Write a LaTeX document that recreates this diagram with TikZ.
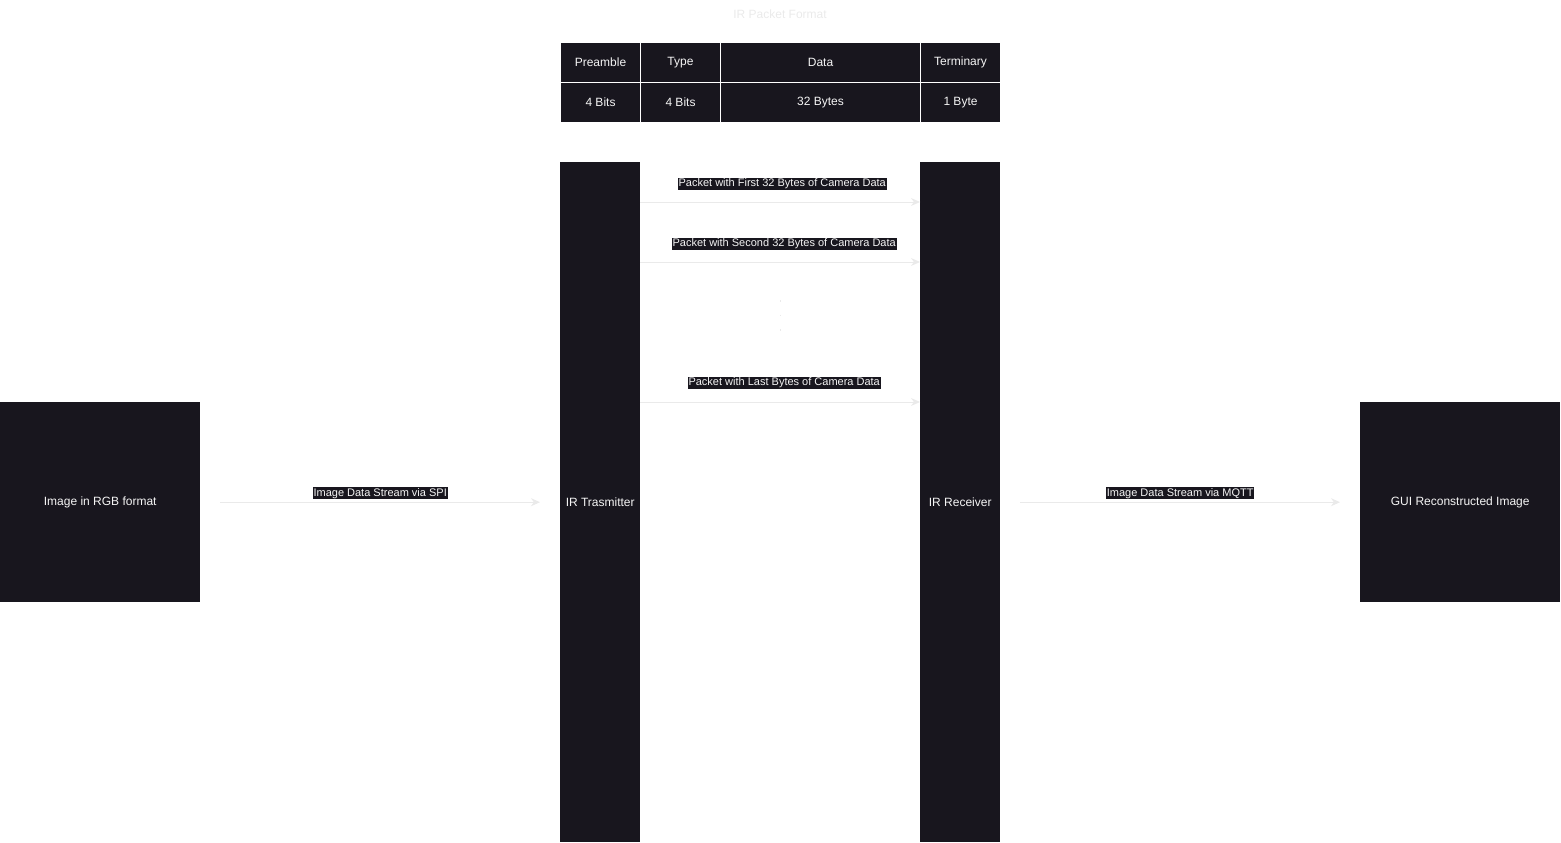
\documentclass[tikz,border=0pt]{standalone}
\usepackage{fontspec}
\setmainfont{Liberation Sans}
\usetikzlibrary{arrows.meta}
\definecolor{boxdark}{RGB}{24,22,30}
\definecolor{softtext}{RGB}{245,245,245}
\definecolor{faint}{RGB}{234,234,234}
\begin{document}
\begin{tikzpicture}[x=1pt,y=-1pt,
  darkbox/.style={draw=none,fill=boxdark,text=softtext,font=\fontsize{12}{14}\selectfont,inner sep=0pt,anchor=north west},
  cell/.style={draw=white,line width=1pt,fill=boxdark,text=softtext,font=\fontsize{12}{14}\selectfont,inner sep=0pt,anchor=north west,minimum height=40pt},
  tag/.style={fill=boxdark,text=softtext,font=\fontsize{11}{12}\selectfont,inner sep=0.8pt},
  flow/.style={draw=faint,line width=1pt,-{Stealth[length=9pt,width=8pt]}}]
\useasboundingbox (0,0) rectangle (1561,843);

% title of the packet layout
\node[text=faint,font=\fontsize{12}{14}\selectfont] (title) at (780,14) {IR Packet Format};

% packet layout table
\node[cell,minimum width=80pt] (hpre) at (560,42) {Preamble};
\node[cell,minimum width=80pt] (htype) at (640,42) {Type};
\node[cell,minimum width=200pt] (hdata) at (720,42) {Data};
\node[cell,minimum width=80pt] (hterm) at (920,42) {Terminary};
\node[cell,minimum width=80pt] (vpre) at (560,82) {4 Bits};
\node[cell,minimum width=80pt] (vtype) at (640,82) {4 Bits};
\node[cell,minimum width=200pt] (vdata) at (720,82) {32 Bytes};
\node[cell,minimum width=80pt] (vterm) at (920,82) {1 Byte};

% main blocks
\node[darkbox,minimum width=200pt,minimum height=200pt] (img) at (0,402) {Image in RGB format};
\node[darkbox,minimum width=80pt,minimum height=680pt] (tx) at (560,162) {IR Trasmitter};
\node[darkbox,minimum width=80pt,minimum height=680pt] (rx) at (920,162) {IR Receiver};
\node[darkbox,minimum width=200pt,minimum height=200pt] (gui) at (1360,402) {GUI Reconstructed Image};

% anchors of the packet arrows
\coordinate (p1s) at (tx.east |- 0,202);
\coordinate (p1e) at (rx.west |- 0,202);
\coordinate (p2s) at (tx.east |- 0,262);
\coordinate (p2e) at (rx.west |- 0,262);
\coordinate (p3s) at (tx.east |- 0,402);
\coordinate (p3e) at (rx.west |- 0,402);
\coordinate (d1) at (780,300);
\coordinate (d2) at (780,332);

% data streams
\draw[flow] ([xshift=20pt]img.east) -- node[tag,pos=0.5,yshift=9pt] (l1) {Image Data Stream via SPI} ([xshift=-20pt]tx.west);
\draw[flow] ([xshift=20pt]rx.east) -- node[tag,pos=0.5,yshift=9pt] (l2) {Image Data Stream via MQTT} ([xshift=-20pt]gui.west);

% packets
\draw[flow] (p1s) -- node[tag,pos=0.5,yshift=18pt,xshift=2pt] (l3) {Packet with First 32 Bytes of Camera Data} (p1e);
\draw[flow] (p2s) -- node[tag,pos=0.5,yshift=18pt,xshift=4pt] (l4) {Packet with Second 32 Bytes of Camera Data} (p2e);
\draw[flow] (p3s) -- node[tag,pos=0.5,yshift=19pt,xshift=4pt] (l5) {Packet with Last Bytes of Camera Data} (p3e);

% ellipsis between packets
\draw[faint,line width=1pt,dash pattern=on 1.5pt off 13pt] (d1) -- (d2);
\end{tikzpicture}
\end{document}
